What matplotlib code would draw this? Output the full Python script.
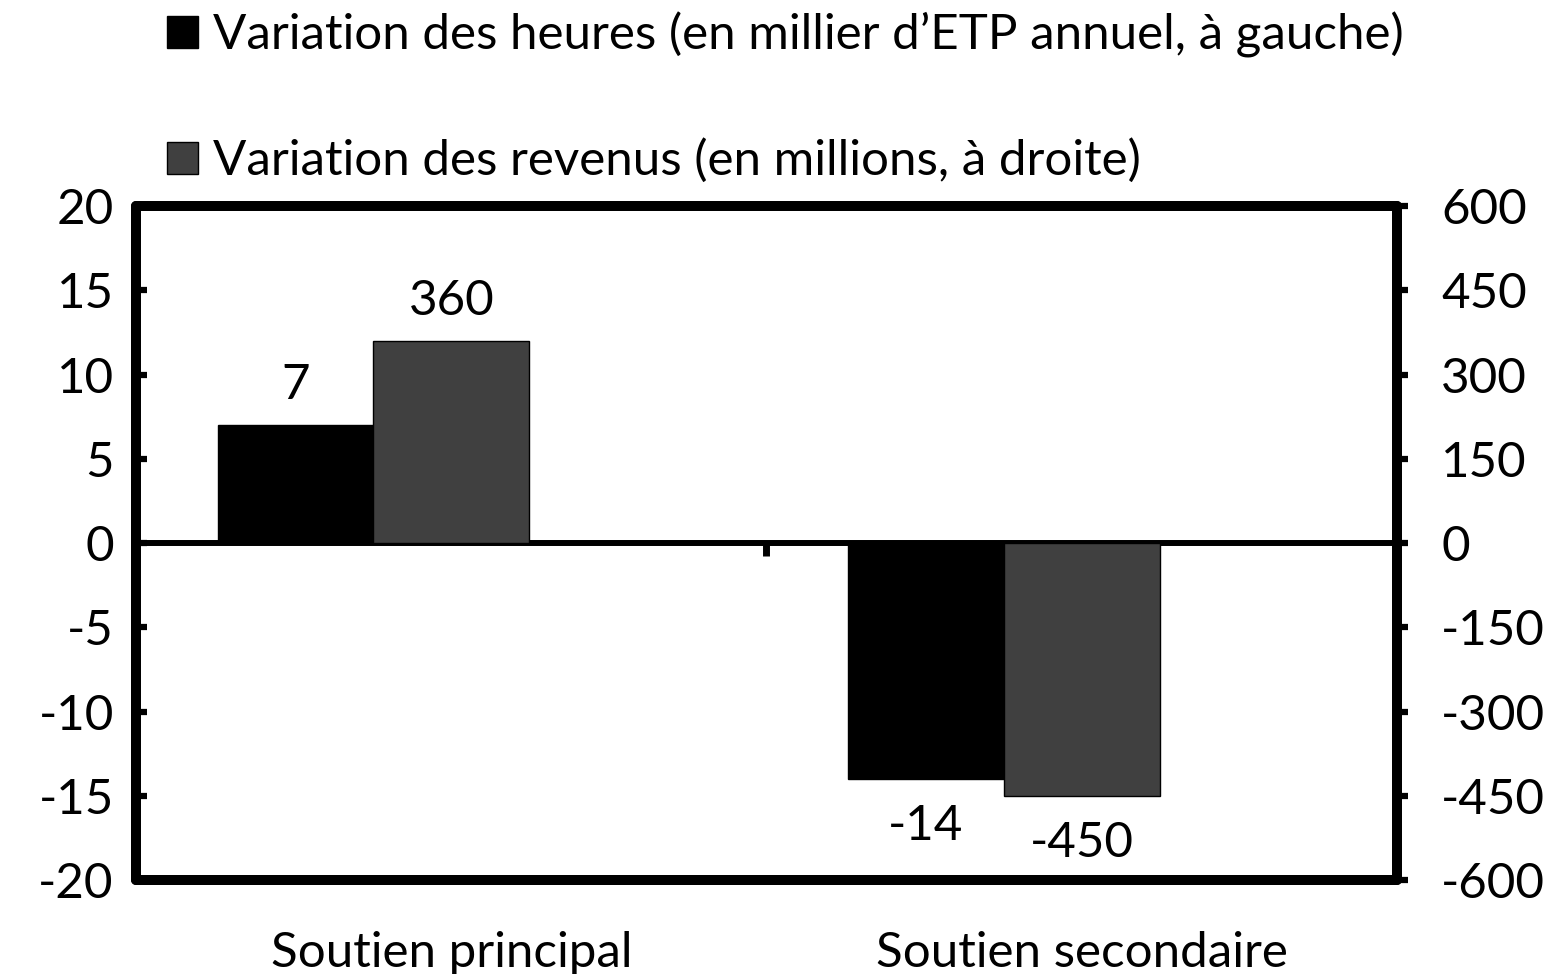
import matplotlib
matplotlib.use("Agg")
import matplotlib.pyplot as plt
from matplotlib.patches import Patch
import numpy as np

categories = ["Soutien principal", "Soutien secondaire"]
heures = [7, -14]          # millier d'ETP annuel, axe gauche
revenus = [360, -450]      # millions, axe droit
heures_labels = ["7", "-14"]
revenus_labels = ["360", "-450"]
left_ticks = [-20, -15, -10, -5, 0, 5, 10, 15, 20]
right_ticks = [-600, -450, -300, -150, 0, 150, 300, 450, 600]

plt.rcParams["font.family"] = ["Lato", "DejaVu Sans"]
plt.rcParams["axes.unicode_minus"] = False
fs = 35.5

fig = plt.figure(figsize=(15.48, 9.74), dpi=100)
ax = fig.add_axes([0.0879, 0.0965, 0.8145, 0.692])
ax2 = ax.twinx()

x = np.arange(len(categories))
width = 0.247

ax.bar(x - width, heures, width, color="black", edgecolor="black", linewidth=1, zorder=2)
ax2.bar(x, revenus, width, color="#404040", edgecolor="black", linewidth=1, zorder=2)

ax.set_xlim(-0.5, 1.5)
ax.set_ylim(-20, 20)
ax2.set_ylim(-600, 600)

# axe horizontal a zero avec la graduation entre categories
for s in ["left", "right", "top"]:
    ax.spines[s].set_visible(False)
ax.spines["bottom"].set_position(("data", 0))
ax.spines["bottom"].set_linewidth(4.3)
ax.tick_params(axis="x", length=0, labelbottom=False)
ax.vlines(0.5, -0.75, 0, color="black", linewidth=5, zorder=3)

ax.set_yticks(left_ticks)
ax.tick_params(axis="y", direction="in", length=8, width=4.5, labelsize=fs, pad=16)

# cadre + axe droit
for s in ["left", "right", "top", "bottom"]:
    ax2.spines[s].set_linewidth(7.2)
    ax2.spines[s].set_capstyle("round")
ax2.set_yticks(right_ticks)
ax2.tick_params(axis="y", direction="out", length=8, width=4.5, labelsize=fs, pad=24)
ax2.xaxis.set_visible(True)
ax2.set_xticks(x)
ax2.set_xticklabels(categories)
ax2.tick_params(axis="x", length=0, labelsize=fs, pad=37)

for xi, v, lab in zip(x - width, heures, heures_labels):
    ax.annotate(lab, (xi, v), xytext=(0, 29 if v > 0 else -34), textcoords="offset points",
                ha="center", va="center", fontsize=fs)
for xi, v, lab in zip(x, revenus, revenus_labels):
    ax2.annotate(lab, (xi, v), xytext=(0, 29 if v > 0 else -34), textcoords="offset points",
                 ha="center", va="center", fontsize=fs)

handles = [
    Patch(facecolor="black", edgecolor="black", label="Variation des heures (en millier d\u2019ETP annuel, à gauche)"),
    Patch(facecolor="#404040", edgecolor="black", label="Variation des revenus (en millions, à droite)"),
]
fig.legend(handles=handles, loc="upper left", bbox_to_anchor=(0.108, 0.988), frameon=False,
           fontsize=fs, handlelength=0.62, handleheight=0.62, handletextpad=0.3,
           labelspacing=1.63, borderpad=0.0, borderaxespad=0.0)

fig.savefig("out.png", dpi=100)
